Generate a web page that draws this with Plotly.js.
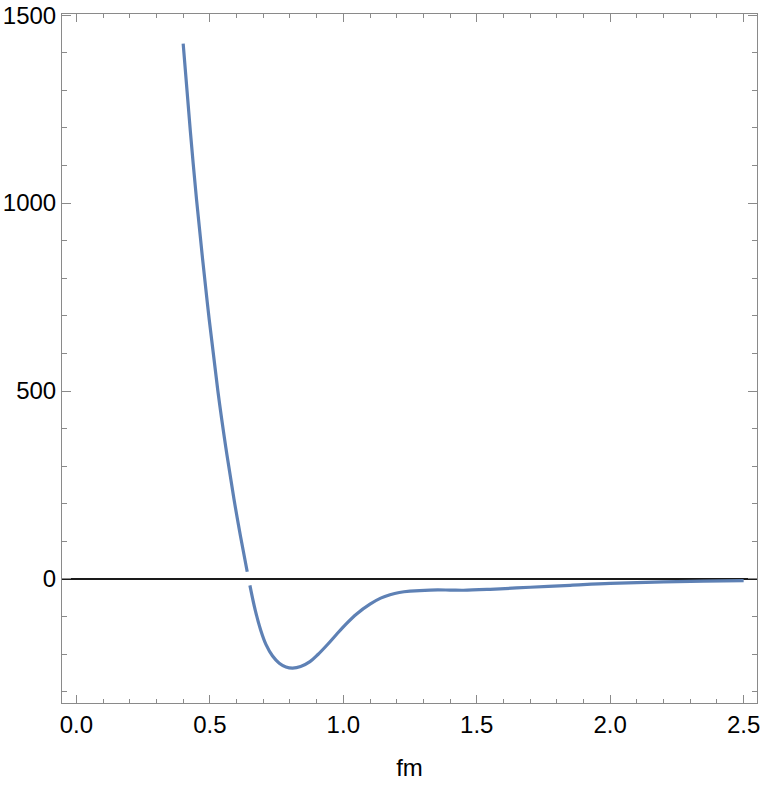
<!DOCTYPE html>
<html>
<head>
<meta charset="utf-8">
<script src="https://cdn.plot.ly/plotly-3.0.1.min.js"></script>
<style>
  html, body { margin: 0; padding: 0; background: #fff; }
  #plot { width: 763px; height: 788px; }
</style>
</head>
<body>
<div id="plot"></div>
<script>
// distance in fm, potential values (null = gap in the curve)
const rFm = [0.40, 0.427, 0.45, 0.49, 0.53, 0.56, 0.59, 0.615, 0.64, null,
  0.65, 0.67, 0.69, 0.71, 0.735, 0.76, 0.785, 0.81, 0.84, 0.875, 0.905, 0.94, 0.975,
  1.01, 1.05, 1.10, 1.14, 1.175, 1.21, 1.25, 1.325, 1.40, 1.45, 1.55, 1.70, 1.85, 2.0, 2.2, 2.35, 2.5];
const potential = [1424, 1190, 1010, 738, 500, 349, 214, 113, 19, null,
  -17, -83, -135, -174, -205, -224, -234, -237, -233, -220, -201, -175, -147,
  -120, -93, -67, -51, -42, -36, -32.5, -29.5, -29.5, -30, -27.5, -22, -17, -12, -8, -6, -4.5];

const xTickVals = [0, 0.5, 1.0, 1.5, 2.0, 2.5];
const yTickVals = [0, 500, 1000, 1500];

const frameColor = '#8a8a8a';
const tickFont = { family: 'Liberation Sans, Arial, sans-serif', size: 24, color: '#000' };

const traces = [{
  x: rFm,
  y: potential,
  type: 'scatter',
  mode: 'lines',
  connectgaps: false,
  line: { color: '#5E81B5', width: 3.2, shape: 'spline', smoothing: 1 },
  hoverinfo: 'x+y'
}];

const layout = {
  width: 763,
  height: 788,
  showlegend: false,
  paper_bgcolor: '#fff',
  plot_bgcolor: '#fff',
  margin: { l: 62, r: 6, t: 14, b: 85 },
  xaxis: {
    range: [-0.054, 2.55],
    tickvals: xTickVals,
    tickformat: '.1f',
    ticks: 'inside',
    ticklen: 8,
    tickcolor: frameColor,
    showline: true,
    linecolor: frameColor,
    linewidth: 1,
    mirror: 'allticks',
    showgrid: false,
    zeroline: false,
    tickfont: tickFont,
    minor: { dtick: 0.1, tick0: 0, ticks: 'inside', ticklen: 4, tickcolor: frameColor, showgrid: false },
    title: { text: 'fm', font: tickFont, standoff: 22 }
  },
  yaxis: {
    range: [-330, 1503],
    tickvals: yTickVals,
    ticks: 'inside',
    ticklen: 9,
    tickcolor: frameColor,
    showline: true,
    linecolor: frameColor,
    linewidth: 1,
    mirror: 'allticks',
    showgrid: false,
    zeroline: true,
    zerolinecolor: '#1a1a1a',
    zerolinewidth: 1.5,
    tickfont: tickFont,
    minor: { dtick: 100, tick0: 0, ticks: 'inside', ticklen: 5, tickcolor: frameColor, showgrid: false }
  }
};

Plotly.newPlot('plot', traces, layout, { displayModeBar: false, staticPlot: true });
</script>
</body>
</html>
